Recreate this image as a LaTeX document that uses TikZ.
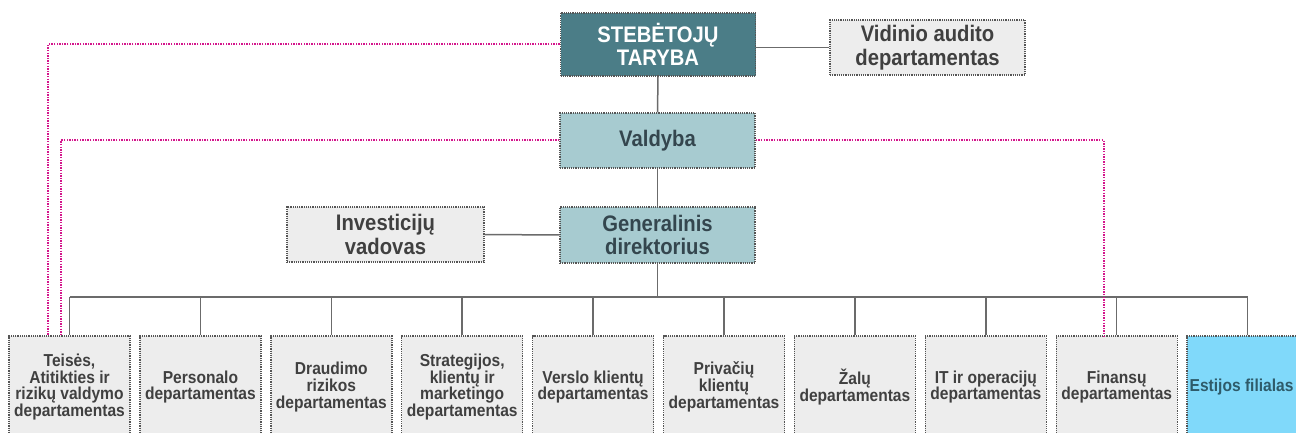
\documentclass[tikz,border=0pt]{standalone}
\usepackage{fontspec}
\setmainfont{Liberation Sans}
\newfontfamily\narrowfont[FakeStretch=0.9]{Liberation Sans}
\usetikzlibrary{calc}
\definecolor{txtgray}{HTML}{404040}
\definecolor{txtteal}{HTML}{34464E}
\definecolor{boxgray}{HTML}{EDEDED}
\definecolor{darkteal}{HTML}{4B7D87}
\definecolor{lightteal}{HTML}{A7CBD0}
\definecolor{cyanfill}{HTML}{80D9FA}
\definecolor{estext}{HTML}{2E5B6A}
\definecolor{bordergray}{HTML}{555555}
\definecolor{linegray}{HTML}{6B6B6B}
\definecolor{pinkline}{HTML}{D4168C}
\tikzset{
  orgbox/.style={draw=bordergray, line width=1.4pt, dash pattern=on 1.2pt off 1pt,
     inner sep=0pt, align=center, font=\narrowfont\bfseries},
  topbox/.style={orgbox, minimum width=195pt, minimum height=55pt,
     font=\narrowfont\bfseries\fontsize{22.5}{23.5}\selectfont},
  deptbox/.style={orgbox, fill=boxgray, text=txtgray, minimum width=121pt, minimum height=102pt,
     font=\narrowfont\bfseries\fontsize{17.3}{16.8}\selectfont},
  conn/.style={draw=linegray, line width=1.5pt},
  pinkconn/.style={draw=pinkline, line width=2pt, dash pattern=on 1.4pt off 1.2pt}
}
\begin{document}
\begin{tikzpicture}[x=1pt,y=-1pt]
\useasboundingbox (0,0) rectangle (1296,433);
\fill[white] (0,0) rectangle (1296,433);
\clip (0,0) rectangle (1296,433);

% top level nodes
\node[topbox, fill=darkteal, text=white, minimum height=63pt] (steb) at (658,44.5) {STEBĖTOJŲ\\TARYBA};
\node[topbox, fill=boxgray, text=txtgray] (vid) at (927.5,47.5) {Vidinio audito\\departamentas};
\node[topbox, fill=lightteal, text=txtteal] (vald) at (657.5,140.5) {Valdyba};
\node[topbox, fill=lightteal, text=txtteal, minimum height=56pt] (gen) at (657.5,235) {Generalinis\\direktorius};
\node[topbox, fill=boxgray, text=txtgray, minimum width=197pt] (inv) at (385.5,234.5) {Investicijų\\vadovas};

% departments
\node[deptbox] (d1) at (69.5,387) {Teisės,\\Atitikties ir\\rizikų valdymo\\departamentas};
\node[deptbox] (d2) at (200.4,387) {Personalo\\departamentas};
\node[deptbox] (d3) at (331.3,387) {Draudimo\\rizikos\\departamentas};
\node[deptbox] (d4) at (462.2,387) {Strategijos,\\klientų ir\\marketingo\\departamentas};
\node[deptbox] (d5) at (593.1,387) {Verslo klientų\\departamentas};
\node[deptbox] (d6) at (724.0,387) {Privačių\\klientų\\departamentas};
\node[deptbox] (d7) at (854.9,387) {Žalų\\departamentas};
\node[deptbox] (d8) at (985.8,387) {IT ir operacijų\\departamentas};
\node[deptbox] (d9) at (1116.7,387) {Finansų\\departamentas};
\node[deptbox, fill=cyanfill, text=estext] (d10) at (1247.6,387) {Estijos filialas\hspace*{12pt}};

% solid connectors
\draw[conn] (steb.south) -- (vald.north);
\draw[conn] (vid.west) -- (vid.west -| steb.east);
\draw[conn] (vald.south) -- (gen.north);
\draw[conn] (inv.east) -- (gen.west);
\coordinate (bus) at (657.5,297);
\draw[conn] (gen.south) -- (bus);
\draw[conn] (d1.north |- bus) -- (d10.north |- bus);
\foreach \d in {d1,d2,d3,d4,d5,d6,d7,d8,d9,d10}{
  \draw[conn] (\d.north) -- (\d.north |- bus);
}

% pink dotted connectors
\coordinate (p1) at (48,336);
\coordinate (p2) at (61,336);
\coordinate (p3) at (1104,336);
\draw[pinkconn] (steb.west) -| (p1);
\draw[pinkconn] (vald.west) -| (p2);
\draw[pinkconn] (vald.east) -| (p3);
\end{tikzpicture}
\end{document}
